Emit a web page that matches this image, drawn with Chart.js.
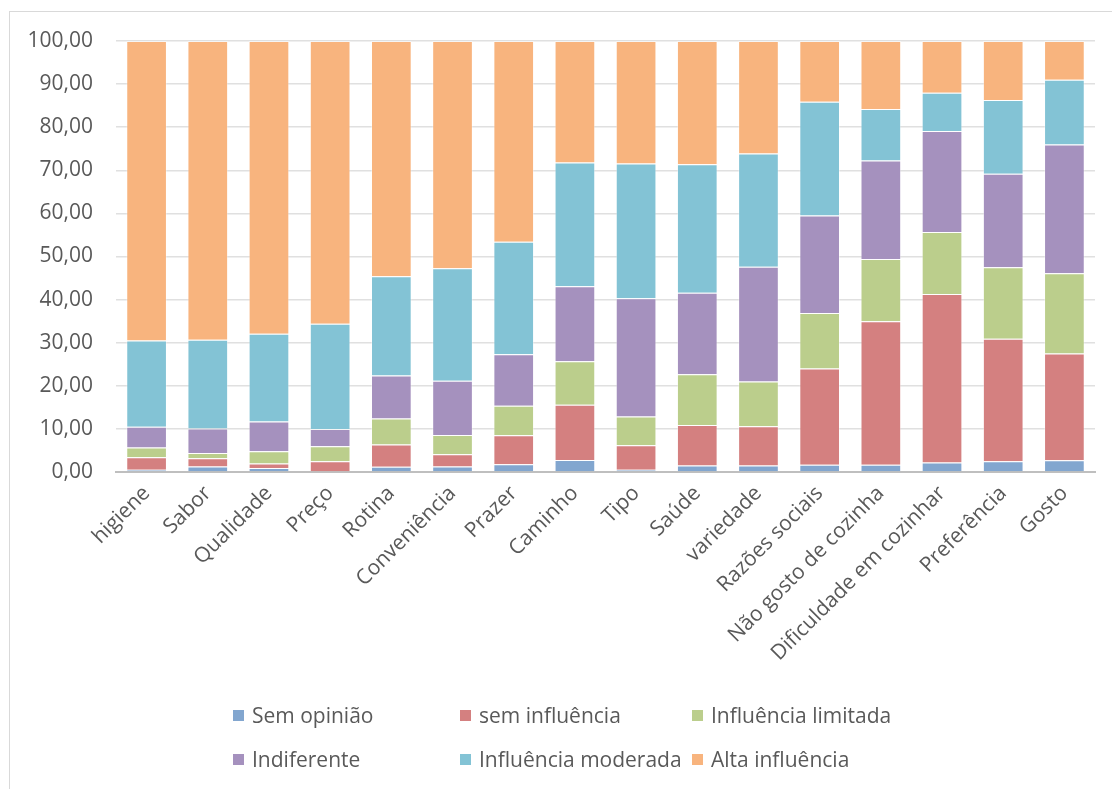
<!DOCTYPE html>
<html lang="pt">
<head>
<meta charset="utf-8">
<title>Fatores de influência</title>
<script src="https://cdn.jsdelivr.net/npm/chart.js@4.4.1/dist/chart.umd.min.js"></script>
<style>
  html, body { margin: 0; padding: 0; background: #ffffff; }
  body { width: 1112px; height: 789px; position: relative; overflow: hidden; font-family: "Open Sans", sans-serif; }
  #frame { position: absolute; left: 9px; top: 11px; width: 1200px; height: 900px; border: 1px solid #d9d9d9; box-sizing: border-box; }
  #wrap { position: absolute; left: 0; top: 0; width: 1112px; height: 789px; }
  #legend { position: absolute; left: 0; top: 0; width: 1112px; height: 789px; pointer-events: none; }
  .item { position: absolute; display: flex; align-items: center; height: 28px; color: #595959; font-size: 21px; white-space: nowrap; }
  .box { width: 11px; height: 11px; margin-right: 8px; flex: none; }
</style>
</head>
<body>
<div id="frame"></div>
<div id="wrap"><canvas id="chart"></canvas></div>
<div id="legend"></div>
<script>
// Categories (motivos) and the share of answers per level, in %
const categories = [
  'higiene', 'Sabor', 'Qualidade', 'Preço', 'Rotina', 'Conveniência', 'Prazer', 'Caminho',
  'Tipo', 'Saúde', 'variedade', 'Razões sociais', 'Não gosto de cozinha',
  'Dificuldade em cozinhar', 'Preferência', 'Gosto'
];
const seriesNames = [
  'Sem opinião', 'sem influência', 'Influência limitada',
  'Indiferente', 'Influência moderada', 'Alta influência'
];
const semOpiniao         = [0.5, 1.3, 0.9, 0.2, 1.2, 1.3, 1.8, 2.8, 0.5, 1.5, 1.5, 1.7, 1.7, 2.2, 2.5, 2.7];
const semInfluencia      = [2.9, 1.9, 1.1, 2.3, 5.2, 2.8, 6.7, 12.8, 5.7, 9.4, 9.1, 22.3, 33.3, 39.1, 28.4, 24.8];
const influenciaLimitada = [2.3, 1.2, 2.8, 3.5, 6.0, 4.5, 6.9, 10.1, 6.7, 11.8, 10.4, 12.9, 14.4, 14.4, 16.6, 18.6];
const indiferente        = [4.8, 5.7, 6.9, 4.0, 10.0, 12.6, 11.9, 17.4, 27.4, 18.9, 26.6, 22.6, 22.9, 23.4, 21.7, 29.9];
const influenciaModerada = [20.0, 20.6, 20.4, 24.4, 23.0, 26.1, 26.1, 28.7, 31.3, 29.8, 26.3, 26.4, 11.9, 8.9, 17.1, 15.0];
const altaInfluencia     = [69.5, 69.3, 67.9, 65.6, 54.6, 52.7, 46.6, 28.2, 28.4, 28.6, 26.1, 14.1, 15.8, 12.0, 13.7, 9.0];
const yTicks = [0, 10, 20, 30, 40, 50, 60, 70, 80, 90, 100];

const seriesValues = [semOpiniao, semInfluencia, influenciaLimitada, indiferente, influenciaModerada, altaInfluencia];
const seriesColors = ['#82a6cf', '#d48080', '#bbce8c', '#a591be', '#83c3d5', '#f8b47e'];

const TEXT = '#595959';
const FONT = { family: '"Open Sans", sans-serif', size: 21 };

const datasets = seriesNames.map((name, i) => ({
  label: name,
  data: seriesValues[i],
  backgroundColor: seriesColors[i],
  borderColor: 'rgba(255,255,255,0.35)',
  borderWidth: 1,
  categoryPercentage: 1,
  barPercentage: 0.665
}));

const chart = new Chart(document.getElementById('chart'), {
  type: 'bar',
  data: { labels: categories, datasets },
  options: {
    responsive: true,
    maintainAspectRatio: false,
    animation: false,
    layout: { padding: { left: 10, right: 17, top: 41, bottom: 90 } },
    plugins: { legend: { display: false }, tooltip: { enabled: false } },
    scales: {
      x: {
        stacked: true,
        grid: { display: false, drawTicks: false },
        border: { display: true, color: '#bfbfbf', width: 2 },
        ticks: {
          color: TEXT, font: FONT, autoSkip: false,
          maxRotation: 45, minRotation: 45, padding: 9
        },
        afterFit: (scale) => { scale.height = 227; }
      },
      y: {
        stacked: true,
        min: 0, max: 100,
        afterBuildTicks: (scale) => { scale.ticks = yTicks.map(v => ({ value: v })); },
        grid: { color: '#e0e0e0', lineWidth: 1.5, drawTicks: false },
        border: { display: false },
        ticks: {
          color: TEXT, font: FONT, padding: 23,
          callback: (v) => Number(v).toFixed(2).replace('.', ',')
        },
        afterFit: (scale) => { scale.width = 106; }
      }
    }
  }
});

// Legend laid out in a 3-column grid below the plot
const legendEl = document.getElementById('legend');
const colLeft = [233, 460, 692];
const rowTop = [701, 745];
chart.data.datasets.forEach((ds, i) => {
  const item = document.createElement('div');
  item.className = 'item';
  item.style.left = colLeft[i % 3] + 'px';
  item.style.top = rowTop[Math.floor(i / 3)] + 'px';
  const box = document.createElement('span');
  box.className = 'box';
  box.style.background = ds.backgroundColor;
  const txt = document.createElement('span');
  txt.textContent = ds.label;
  item.appendChild(box);
  item.appendChild(txt);
  legendEl.appendChild(item);
});
</script>
</body>
</html>
